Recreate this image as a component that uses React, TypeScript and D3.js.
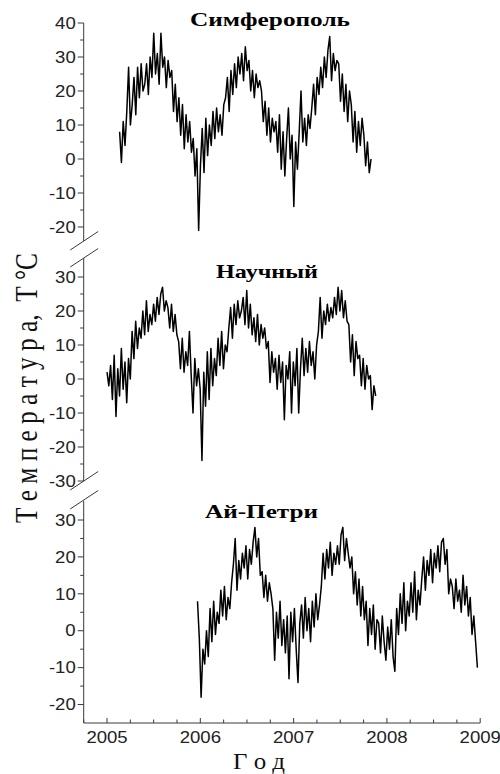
import React from "react";
import * as d3 from "d3";

// ---- data (weekly samples) ----
const simferopolSpan = [2005.135, 2007.83];
const simferopol = [
  8, -1, 11, 4, 14, 27, 10,
  16, 24, 13, 27, 18, 28, 20,
  22, 28, 19, 30, 24, 37,
  25, 31, 22, 37, 27, 30, 21, 29, 24,
  26, 14, 22, 11,
  18, 7, 16, 3, 13, 5, 11, 2,
  6, -5, 3, -21, -2,
  9, -4, 12, 1, 10, 4,
  14, 6, 15, 8, 13, 7, 16,
  18, 24, 14, 26, 19, 28, 21, 30,
  25, 31, 23, 33, 26, 29,
  20, 26, 18, 25, 21, 23,
  20, 11, 17, 7, 15, 5, 12, 8,
  11, 2, 13, -3, 8, -5, 6, 15,
  0, 7, -14, 5, -3,
  8, 20, 5, 12, 4, 13, 9,
  15, 22, 13, 24, 19,
  27, 21, 30, 24, 32, 36, 23, 31, 26, 29,
  28, 17, 25, 14, 22, 11, 20,
  16, 5, 14, 2, 11, 4, 12,
  7, -2, 5, -4, 0,
];

const nauchnySpan = [2005.0, 2007.88];
const nauchny = [
  2, -2, 4, -6, 7, -11, 3, -5, 9, -3, 5, -7, 6, 0,
  14, 6, 17, 9, 15, 12,
  20, 13, 23, 14, 19, 16,
  22, 17, 24, 19, 25, 27, 20, 23,
  21, 15, 22, 14, 19, 13,
  11, 3, 12, 2, 8, 4,
  14, 1, -10, 6, -2, 3,
  -3, -24, 2, -8,
  8, -6, 9, -2, 6, 1,
  12, 4, 14, 3, 10, 8,
  15, 21, 12, 22, 16, 23, 18, 20,
  24, 16, 26, 15, 22, 13,
  18, 11, 19, 10, 16, 12, 15, 9,
  11, -1, 8, 2,
  6, -3, 7, -1, 5, -12, 4, 0,
  8, -10, 5, -2, 9, -10,
  3, 12, 1, 9, 2, 11, 4, 8, 0, 10,
  14, 24, 12, 20,
  16, 22, 17, 21, 18,
  24, 19, 27, 20, 26, 18, 23, 17,
  16, 5, 13, 1, 11, 6,
  7, -2, 6, -3, 4, 0,
  1, -9, -2, -5,
];

const aiPetriSpan = [2005.97, 2008.97];
const aiPetri = [
  8, -2, -18, -5, -9, 0, -7,
  6, -3, 8, -1, 5, 2,
  11, 4, 12, 3, 9, 6,
  13, 18, 25, 11, 19, 14, 21,
  17, 23, 14, 22, 18, 24, 28, 20, 25, 15,
  16, 9, 15, 8, 13, 10,
  6, -8, 5, -2, 8, -4, 3, -6, 4, -13,
  5, -3, 6, -5, -14, 2,
  7, -2, 9, 0, 6, -3,
  8, 1, 10, 3, 7,
  12, 21, 14, 22,
  17, 24, 15, 21, 18,
  23, 18, 26, 28, 19, 25, 21, 17,
  20, 10, 16, 7, 14, 4, 12, 3,
  8, -4, 6, -1, 7, -5, 3,
  2, -6, 4, -3, -8, 1, -5, 3, -7, -11,
  6, -1, 10, 2, 13, 0, 8, 4,
  13, 5, 16, 3, 11, 7,
  14, 20, 11, 19, 15, 22, 13, 21, 17, 23, 16, 24, 25,
  18, 22, 10, 14,
  12, 6, 14, 8, 11, 5, 15, 7, 12, 4, 9,
  -1, 4, -3,
  -10,
];

const stationNames = ["Симферополь", "Научный", "Ай-Петри"];
const yearTicks = [2005, 2006, 2007, 2008, 2009];
const topTicks = [40, 30, 20, 10, 0, -10, -20];
const midTicks = [30, 20, 10, 0, -10, -20, -30];
const botTicks = [30, 20, 10, 0, -10, -20];
const yAxisLabel = "Т е м п е р а т у р а,\u00A0\u00A0Т\u00A0°С";
const xAxisLabel = "Г о д";

const W = 500;
const H = 774;
const AX = 83.7;
const SANS = "'Liberation Sans', Arial, sans-serif";
const SERIF = "'Liberation Serif', 'Times New Roman', serif";
const AXIS_COLOR = "#3a3a3a";

const x = d3.scaleLinear().domain([2004.75, 2009]).range([83.7, 480.2]);

type Panel = {
  name: string;
  values: number[];
  span: number[];
  y: d3.ScaleLinear<number, number>;
  axisTop: number;
  axisBottom: number;
  ticks: number[];
  minorFrom: number;
  minorTo: number;
  title: { cx: number; y: number; w: number };
};

const panels: Panel[] = [
  {
    name: stationNames[0],
    values: simferopol,
    span: simferopolSpan,
    y: d3.scaleLinear().domain([-20, 40]).range([227, 23]),
    axisTop: 23,
    axisBottom: 241,
    ticks: topTicks,
    minorFrom: -15,
    minorTo: 35,
    title: { cx: 270, y: 26, w: 160 },
  },
  {
    name: stationNames[1],
    values: nauchny,
    span: nauchnySpan,
    y: d3.scaleLinear().domain([-30, 30]).range([481, 277]),
    axisTop: 258,
    axisBottom: 481,
    ticks: midTicks,
    minorFrom: -25,
    minorTo: 25,
    title: { cx: 267, y: 278, w: 102 },
  },
  {
    name: stationNames[2],
    values: aiPetri,
    span: aiPetriSpan,
    y: d3.scaleLinear().domain([-25, 30]).range([723, 520]),
    axisTop: 501,
    axisBottom: 723,
    ticks: botTicks,
    minorFrom: -15,
    minorTo: 25,
    title: { cx: 261.5, y: 518, w: 113 },
  },
];

function seriesPath(p: Panel): string {
  const n = p.values.length;
  const t = d3.scaleLinear().domain([0, n - 1]).range([p.span[0], p.span[1]]);
  const line = d3
    .line<number>()
    .x((_, i) => x(t(i)))
    .y((v) => p.y(v));
  return line(p.values) || "";
}

function Slash({ cy }: { cy: number }) {
  return (
    <line
      x1={AX - 13.5}
      y1={cy + 9}
      x2={AX + 14.5}
      y2={cy - 9.5}
      stroke={AXIS_COLOR}
      strokeWidth={1}
    />
  );
}

function YAxis({ p }: { p: Panel }) {
  const minors: number[] = [];
  for (let v = p.minorFrom; v <= p.minorTo; v += 10) minors.push(v);
  return (
    <g>
      <line x1={AX} x2={AX} y1={p.axisTop} y2={p.axisBottom} stroke={AXIS_COLOR} strokeWidth={1} />
      {p.ticks.map((v) => (
        <g key={"M" + v}>
          <line x1={AX - 6} x2={AX} y1={p.y(v)} y2={p.y(v)} stroke={AXIS_COLOR} strokeWidth={1} />
          <text
            transform={`translate(${AX - 8},${p.y(v)}) scale(1.16,1)`}
            textAnchor="end"
            dy="0.36em"
            fontFamily={SANS}
            fontSize={16}
            fill="#222"
          >
            {v}
          </text>
        </g>
      ))}
      {minors.map((v) => (
        <line key={"m" + v} x1={AX - 3.5} x2={AX} y1={p.y(v)} y2={p.y(v)} stroke={AXIS_COLOR} strokeWidth={1} />
      ))}
    </g>
  );
}

export default function App() {
  const axisY = 723;
  const quarterTicks = d3.range(2004.75, 2009.001, 0.25);
  return (
    <svg
      width={W}
      height={H}
      viewBox={`0 0 ${W} ${H}`}
      style={{ position: "absolute", left: 0, top: 0, background: "#fff" }}
    >
      <rect width={W} height={H} fill="#fff" />
      {panels.map((p) => (
        <g key={p.name}>
          <YAxis p={p} />
          <path d={seriesPath(p)} fill="none" stroke="#000" strokeWidth={1.5} strokeLinejoin="round" />
          <text
            x={p.title.cx}
            y={p.title.y}
            textAnchor="middle"
            fontFamily={SERIF}
            fontWeight="bold"
            fontSize={19}
            textLength={p.title.w}
            lengthAdjust="spacingAndGlyphs"
            fill="#000"
          >
            {p.name}
          </text>
        </g>
      ))}
      {/* axis breaks */}
      <Slash cy={241} />
      <Slash cy={258} />
      <Slash cy={481} />
      <Slash cy={500} />
      {/* x axis */}
      <line x1={x(2004.75)} x2={x(2009)} y1={axisY} y2={axisY} stroke={AXIS_COLOR} strokeWidth={1} />
      {quarterTicks.map((t) => {
        const major = Math.abs(t - Math.round(t)) < 1e-6;
        return (
          <line
            key={"q" + t}
            x1={x(t)}
            x2={x(t)}
            y1={axisY}
            y2={axisY - (major ? 5 : 3.5)}
            stroke={AXIS_COLOR}
            strokeWidth={1}
          />
        );
      })}
      {yearTicks.map((yr) => (
        <text
          key={"y" + yr}
          transform={`translate(${x(yr)},743) scale(1.16,1)`}
          textAnchor="middle"
          fontFamily={SANS}
          fontSize={16}
          fill="#222"
        >
          {yr}
        </text>
      ))}
      {/* axis titles */}
      <text
        transform="translate(37,388) rotate(-90) scale(1,1.2)"
        textAnchor="middle"
        fontFamily={SERIF}
        fontSize={27}
        textLength={270}
        lengthAdjust="spacingAndGlyphs"
        fill="#111"
      >
        {yAxisLabel}
      </text>
      <text
        x={259}
        y={769}
        textAnchor="middle"
        fontFamily={SERIF}
        fontSize={24}
        textLength={52}
        lengthAdjust="spacingAndGlyphs"
        fill="#111"
      >
        {xAxisLabel}
      </text>
    </svg>
  );
}
